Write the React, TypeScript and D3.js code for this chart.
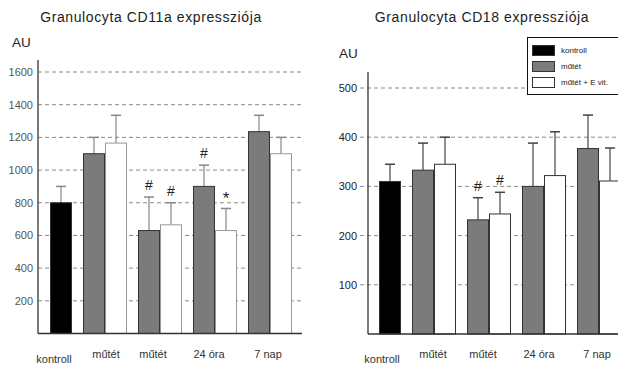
import * as d3 from 'd3';
import React, { useEffect, useRef } from 'react';

// groups on the x axis (kontroll has only one bar, in the second slot)
const groupKeys = ['kontroll', 'elott', 'utan', 'ora24', 'nap7'];
const groupLabels = ['kontroll', 'műtét', 'műtét', '24 óra', '7 nap'];
const slotKeys = ['mutet', 'mutetE'];
const legendLabels = ['kontroll', 'műtét', 'műtét + E vit.'];

// CD11a (AU)
const cd11aKontroll = 800;
const cd11aKontrollSd = 100;
const cd11aMutet = [1100, 630, 900, 1235];
const cd11aMutetSd = [100, 205, 130, 100];
const cd11aMutetE = [1165, 665, 630, 1100];
const cd11aMutetESd = [170, 135, 135, 100];
const cd11aMutetSig = ['', '#', '#', ''];
const cd11aMutetESig = ['', '#', '*', ''];
const cd11aTicks = [200, 400, 600, 800, 1000, 1200, 1400, 1600];

// CD18 (AU)
const cd18Kontroll = 310;
const cd18KontrollSd = 35;
const cd18Mutet = [333, 232, 300, 377];
const cd18MutetSd = [55, 45, 88, 68];
const cd18MutetE = [345, 244, 322, 311];
const cd18MutetESd = [55, 44, 89, 67];
const cd18MutetSig = ['', '#', '', ''];
const cd18MutetESig = ['', '#', '', ''];
const cd18Ticks = [100, 200, 300, 400, 500];

const FONT = "'Liberation Sans', Arial, sans-serif";

function buildBars(kontroll, kontrollSd, mutet, mutetSd, mutetE, mutetESd, sigA, sigB) {
    const bars = [{ group: groupKeys[0], slot: slotKeys[1], value: kontroll, sd: kontrollSd, fill: '#000', sig: '' }];
    mutet.forEach((v, i) => {
        bars.push({ group: groupKeys[i + 1], slot: slotKeys[0], value: v, sd: mutetSd[i], fill: '#7b7b7b', sig: sigA[i] });
        bars.push({ group: groupKeys[i + 1], slot: slotKeys[1], value: mutetE[i], sd: mutetESd[i], fill: '#fff', sig: sigB[i] });
    });
    return bars;
}

function drawChart(svg, opts) {
    const { title, titleX, auX, auY, bars, ticks, yMax, yTopPx, baseY, axisX, axisTop,
        xRange, gridStart, gridEnd, tickPad, tickColor, errColor, whiteStroke, labelOffsets } = opts;

    const g = svg.append('g');

    const x = d3.scaleBand().domain(groupKeys).range(xRange).paddingInner(0.2).paddingOuter(0);
    const xs = d3.scaleBand().domain(slotKeys).range([0, x.bandwidth()]);
    const y = d3.scaleLinear().domain([0, yMax]).range([baseY, yTopPx]);

    // title + unit
    g.append('text')
        .attr('x', titleX).attr('y', 22)
        .attr('text-anchor', 'middle')
        .attr('font-family', FONT).attr('font-size', 14)
        .attr('letter-spacing', 0.6)
        .attr('fill', '#222')
        .text(title);
    g.append('text')
        .attr('x', auX).attr('y', auY)
        .attr('font-family', FONT).attr('font-size', 13.5)
        .attr('fill', '#222')
        .text('AU');

    // gridlines
    g.selectAll('.grid')
        .data(ticks)
        .enter()
        .append('line')
        .attr('x1', gridStart).attr('x2', gridEnd)
        .attr('y1', d => y(d)).attr('y2', d => y(d))
        .attr('stroke', '#8a8a8a')
        .attr('stroke-width', 1)
        .attr('stroke-dasharray', '4,3');

    // y tick labels
    const yAxis = d3.axisLeft(y).tickValues(ticks).tickFormat(d3.format('d')).tickSize(0).tickPadding(tickPad);
    const ax = g.append('g')
        .attr('transform', `translate(${axisX},0)`)
        .call(yAxis);
    ax.select('.domain').remove();
    ax.selectAll('text')
        .attr('font-family', FONT)
        .style('font-size', '11px')
        .attr('fill', tickColor);

    // bars
    bars.forEach(b => {
        const bx = x(b.group) + xs(b.slot);
        const bw = xs.bandwidth();
        const cx = bx + bw / 2;
        const top = y(b.value + b.sd);

        g.append('line')
            .attr('x1', cx).attr('x2', cx)
            .attr('y1', y(b.value)).attr('y2', top)
            .attr('stroke', errColor).attr('stroke-width', 1.2);
        g.append('line')
            .attr('x1', cx - 5).attr('x2', cx + 5)
            .attr('y1', top).attr('y2', top)
            .attr('stroke', errColor).attr('stroke-width', 1.5);

        g.append('rect')
            .attr('x', bx + 0.5).attr('y', y(b.value))
            .attr('width', bw - 1).attr('height', baseY - y(b.value))
            .attr('fill', b.fill)
            .attr('stroke', b.fill === '#fff' ? whiteStroke : '#333')
            .attr('stroke-width', 1);

        if (b.sig) {
            g.append('text')
                .attr('x', cx).attr('y', top - (b.sig === '*' ? 4 : 7))
                .attr('text-anchor', 'middle')
                .attr('font-family', FONT)
                .attr('font-size', b.sig === '*' ? 17 : 14)
                .attr('fill', '#222')
                .text(b.sig);
        }
    });

    // axes lines
    g.append('line')
        .attr('x1', axisX).attr('x2', axisX)
        .attr('y1', axisTop).attr('y2', baseY)
        .attr('stroke', '#333').attr('stroke-width', 1.3);
    g.append('line')
        .attr('x1', axisX).attr('x2', gridEnd)
        .attr('y1', baseY).attr('y2', baseY)
        .attr('stroke', '#333').attr('stroke-width', 1.3);

    // x labels
    groupLabels.forEach((lab, i) => {
        const k = groupKeys[i];
        const cx = i === 0 ? x(k) + xs(slotKeys[1]) + xs.bandwidth() / 2 : x(k) + x.bandwidth() / 2;
        g.append('text')
            .attr('x', cx + labelOffsets[i])
            .attr('y', i === 0 ? 363 : 358)
            .attr('text-anchor', 'middle')
            .attr('font-family', FONT)
            .attr('font-size', 11)
            .attr('fill', '#333')
            .text(lab);
    });
}

export default function App() {
    const ref = useRef(null);

    useEffect(() => {
        const svg = d3.select(ref.current);
        svg.selectAll('*').remove();

        drawChart(svg, {
            title: 'Granulocyta CD11a expressziója',
            titleX: 151, auX: 12, auY: 47,
            bars: buildBars(cd11aKontroll, cd11aKontrollSd, cd11aMutet, cd11aMutetSd, cd11aMutetE, cd11aMutetESd, cd11aMutetSig, cd11aMutetESig),
            ticks: cd11aTicks, yMax: 1600, yTopPx: 72, baseY: 333.5,
            axisX: 38, axisTop: 60, xRange: [28, 292], gridStart: 38, gridEnd: 302,
            tickPad: 5, tickColor: '#555', errColor: '#888', whiteStroke: '#999',
            labelOffsets: [-7, 1, -7, -6, -2],
        });

        drawChart(svg, {
            title: 'Granulocyta CD18 expressziója',
            titleX: 482, auX: 339, auY: 58,
            bars: buildBars(cd18Kontroll, cd18KontrollSd, cd18Mutet, cd18MutetSd, cd18MutetE, cd18MutetESd, cd18MutetSig, cd18MutetESig),
            ticks: cd18Ticks, yMax: 500, yTopPx: 88, baseY: 334,
            axisX: 368, axisTop: 72, xRange: [357, 621], gridStart: 360, gridEnd: 618,
            tickPad: 11, tickColor: '#222', errColor: '#444', whiteStroke: '#333',
            labelOffsets: [-8, -1, -6, -5, -2],
        });

        // legend
        const legend = svg.append('g');
        legend.append('rect')
            .attr('x', 527.5).attr('y', 37.5)
            .attr('width', 100).attr('height', 57)
            .attr('fill', '#fff')
            .attr('stroke', '#111').attr('stroke-width', 1);
        const legendFills = ['#000', '#7b7b7b', '#fff'];
        legendLabels.forEach((lab, i) => {
            legend.append('rect')
                .attr('x', 532.5).attr('y', 45.5 + i * 16)
                .attr('width', 22).attr('height', 10)
                .attr('fill', legendFills[i])
                .attr('stroke', '#333').attr('stroke-width', 1);
            legend.append('text')
                .attr('x', 561).attr('y', 53 + i * 16)
                .attr('font-family', FONT)
                .attr('font-size', 8)
                .attr('fill', '#222')
                .text(lab);
        });
    }, []);

    return (
        <svg ref={ref} width={618} height={365}
            style={{ position: 'absolute', left: 0, top: 0, background: '#fff' }} />
    );
}
